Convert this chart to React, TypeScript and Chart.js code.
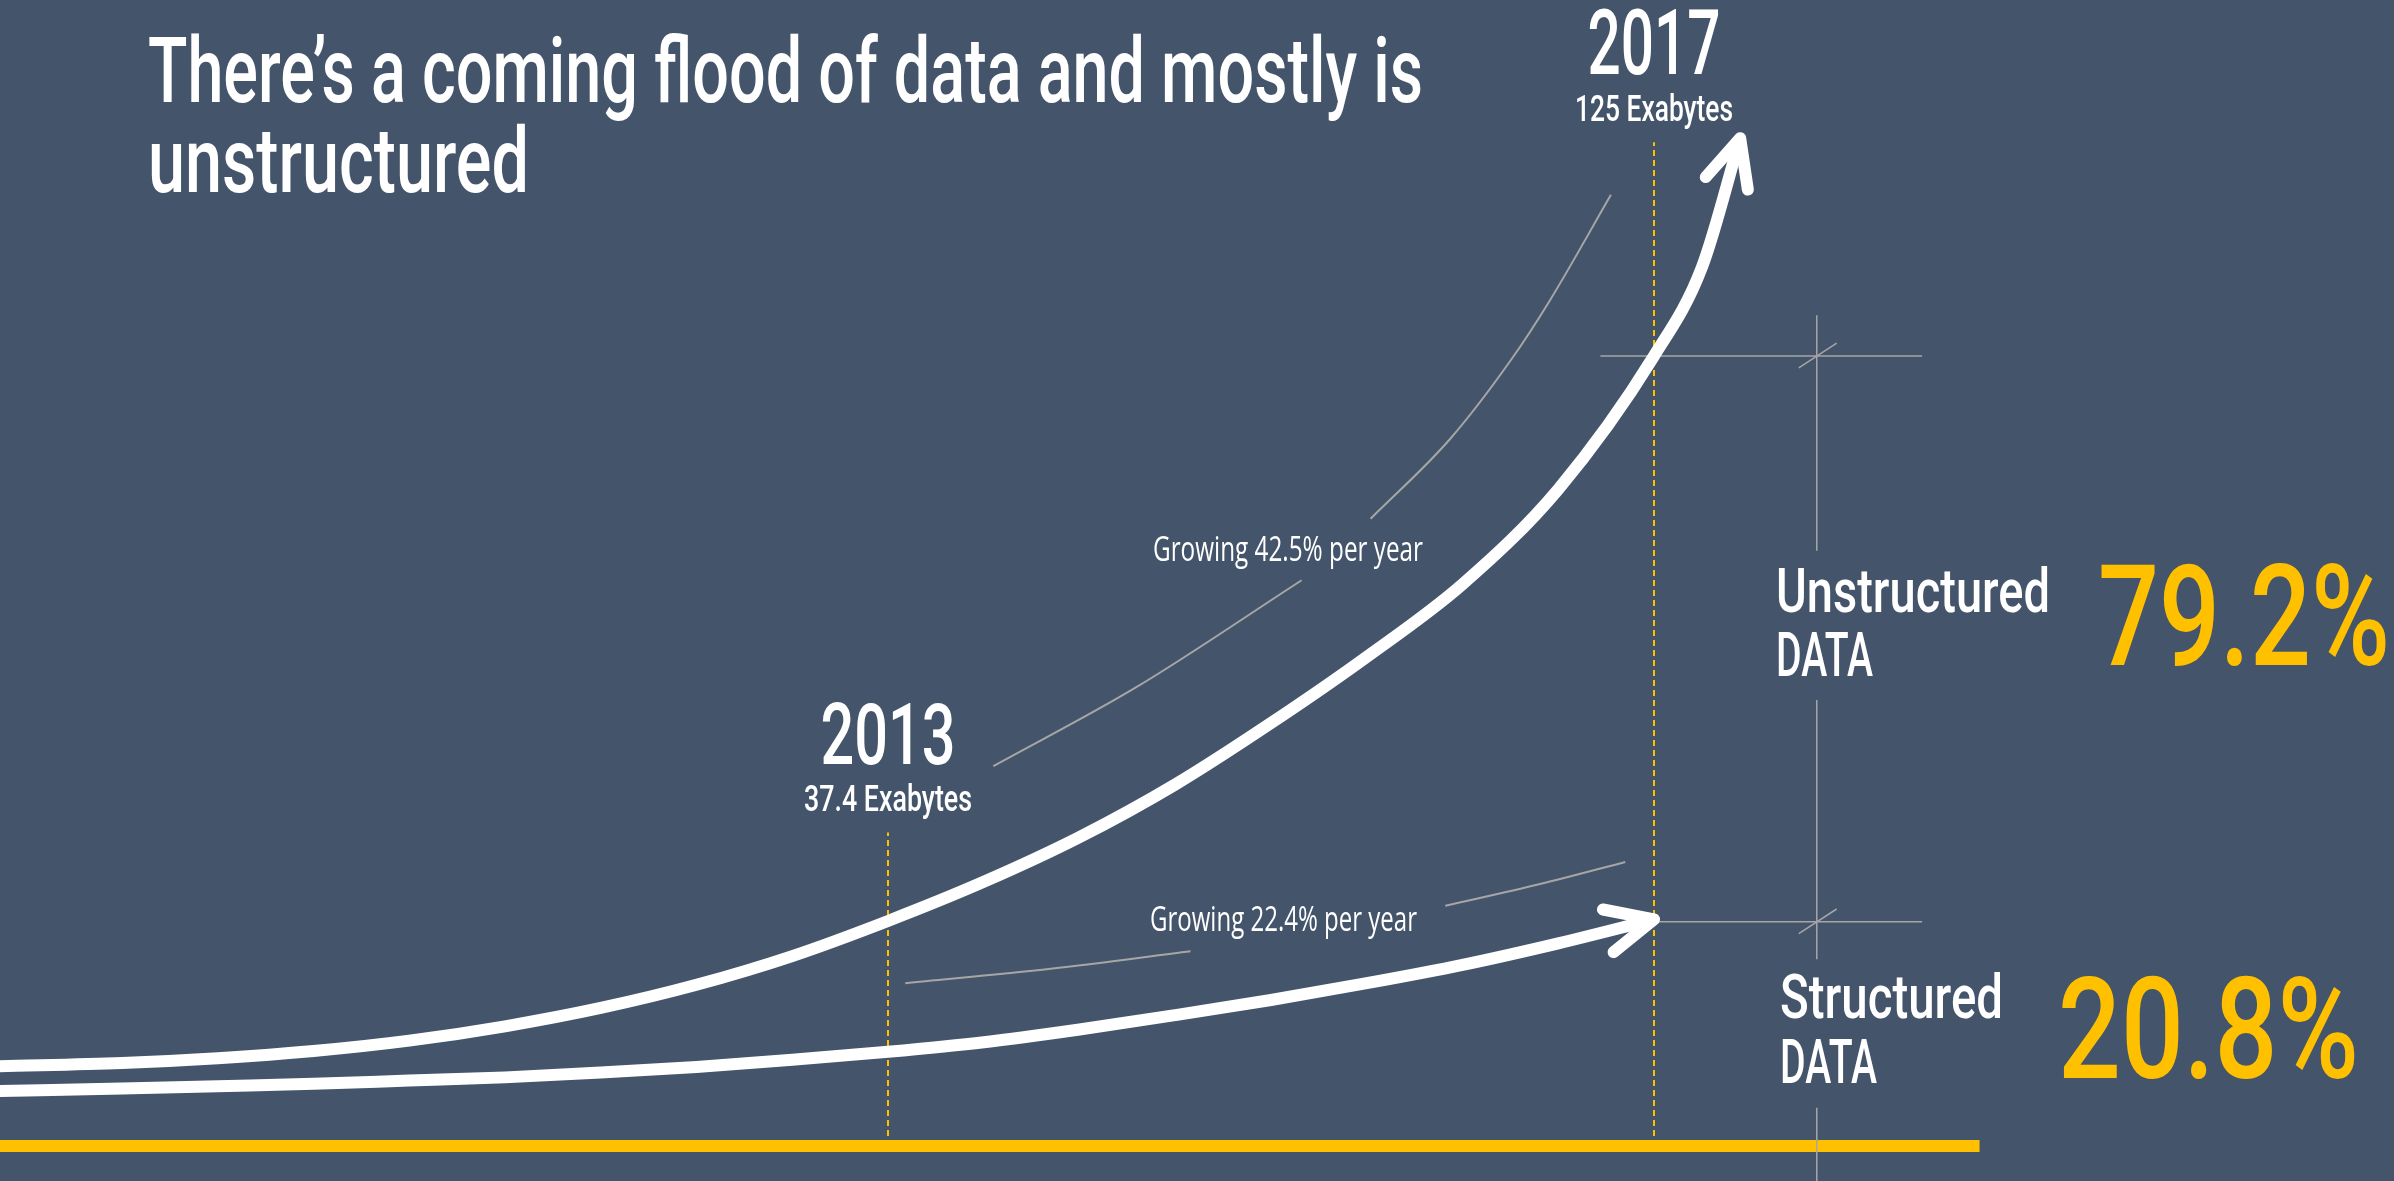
import { useEffect, useRef } from 'react';
import { Chart, registerables } from 'chart.js';

Chart.register(...registerables);

// ---------------- data ----------------
const titleLines = ['There\u2019s a coming flood of data and mostly is', 'unstructured'];

// Unstructured data curve (Exabytes)
const unstructuredYears = [2008.36, 2009, 2009.5, 2010, 2010.5, 2011, 2011.5, 2012, 2012.5, 2013, 2013.5, 2014, 2014.5, 2015, 2015.5, 2016, 2016.5, 2017, 2017.25, 2017.45];
const unstructuredEB = [10.0, 10.4, 11.0, 11.9, 13.2, 15.0, 17.3, 20.2, 23.8, 28.2, 33.1, 38.7, 45.3, 53.0, 61.3, 70.4, 82.3, 99.0, 110.1, 126.3];

// Structured data curve
const structuredYears = [2008.36, 2009, 2009.5, 2010, 2010.5, 2011, 2011.5, 2012, 2012.5, 2013, 2013.5, 2014, 2014.5, 2015, 2015.5, 2016, 2016.5, 2017];
const structuredEB = [6.9, 7.2, 7.5, 7.8, 8.2, 8.6, 9.2, 9.9, 10.8, 11.8, 13.0, 14.6, 16.4, 18.3, 20.4, 22.7, 25.4, 28.4];

// Year markers
const markerYears = [2013, 2017];
const markerTopEB = [39.3, 125.8];
const markerYearLabels = ['2013', '2017'];
const markerVolumeLabels = ['37.4 Exabytes', '125 Exabytes'];

// Growth annotations (thin guide curves, split around the label)
const growthLabels = ['Growing 42.5% per year', 'Growing 22.4% per year'];
const guideALowerYears = [2013.55, 2014.29, 2015.16];
const guideALowerEB = [47.6, 57.4, 70.9];
const guideAUpperYears = [2015.52, 2015.935, 2016.25, 2016.457, 2016.775];
const guideAUpperEB = [78.6, 88.6, 98.4, 106.0, 119.2];
const guideBLowerYears = [2013.09, 2013.85, 2014.58];
const guideBLowerEB = [20.4, 22.2, 24.4];
const guideBUpperYears = [2015.91, 2016.4, 2016.85];
const guideBUpperEB = [30.1, 32.8, 35.6];

// Share measure (crosshair) lines
const shareYear = 2017.85;
const shareLevelsEB = [99.0, 28.1];
const shareLevelStartYears = [2016.72, 2017.0];
const shareLevelEndYear = 2018.4;
const shareVerticalSegmentsEB = [[104.1, 74.6], [55.9, 23.4], [4.8, -4.4]];
const shareNames = ['Unstructured', 'Structured'];
const sharePercents = ['79.2%', '20.8%'];

// Base axis bar
const axisYears = [2008.3629, 2018.7];
const axisEB = [0, 0];

// ---------------- style ----------------
const BG = '#44546A';
const YELLOW = '#FFC000';
const GRAY = '#A6A6A6';
const WHITE = '#FFFFFF';

const X_MIN = 2008.3629;
const X_MAX = 2020.8642;
const Y_MIN = -4.386;
const Y_MAX = 143.614;

const pts = (xs: number[], ys: number[]) => xs.map((x, i) => ({ x, y: ys[i] }));

function fitText(
  ctx: CanvasRenderingContext2D,
  text: string,
  x: number,
  baseline: number,
  size: number,
  weight: number,
  family: string,
  color: string,
  width: number,
  align: 'left' | 'center' = 'left'
) {
  ctx.save();
  ctx.font = `${weight} ${size}px ${family}`;
  ctx.textAlign = 'left';
  ctx.textBaseline = 'alphabetic';
  ctx.fillStyle = color;
  const w = ctx.measureText(text).width || 1;
  const sx = width / w;
  const left = align === 'center' ? x - width / 2 : x;
  ctx.translate(left, baseline);
  ctx.scale(sx, 1);
  ctx.fillText(text, 0, 0);
  ctx.restore();
}

const bgPlugin = {
  id: 'bg',
  beforeDraw(chart: any) {
    const ctx = chart.ctx;
    ctx.save();
    ctx.fillStyle = BG;
    ctx.fillRect(0, 0, chart.width, chart.height);
    ctx.restore();
  },
};

const arrowPlugin = {
  id: 'arrowHeads',
  afterDatasetsDraw(chart: any) {
    const ctx = chart.ctx;
    chart.data.datasets.forEach((ds: any, i: number) => {
      if (!ds.arrowHead) return;
      const meta = chart.getDatasetMeta(i);
      const n = meta.data.length;
      const last = meta.data[n - 1];
      const prev = meta.data[n - 2];
      let cx = last.cp1x;
      let cy = last.cp1y;
      if (cx === undefined || cy === undefined || (Math.abs(cx - last.x) < 0.01 && Math.abs(cy - last.y) < 0.01)) {
        cx = prev.x;
        cy = prev.y;
      }
      const ang = Math.atan2(last.y - cy, last.x - cx);
      const L = 52;
      const half = (25 * Math.PI) / 180;
      ctx.save();
      ctx.strokeStyle = ds.borderColor;
      ctx.lineWidth = ds.borderWidth;
      ctx.lineCap = 'round';
      ctx.lineJoin = 'round';
      ctx.beginPath();
      for (const s of [-1, 1]) {
        const a = ang + Math.PI + s * half;
        ctx.moveTo(last.x + Math.cos(a) * L, last.y + Math.sin(a) * L);
        ctx.lineTo(last.x, last.y);
      }
      ctx.stroke();
      ctx.restore();
    });
  },
};

const textPlugin = {
  id: 'texts',
  afterDraw(chart: any) {
    const ctx = chart.ctx;
    const xs = chart.scales.x;
    const ys = chart.scales.y;
    // title
    fitText(ctx, titleLines[0], 148, 102, 90, 500, 'Roboto', WHITE, 1275);
    fitText(ctx, titleLines[1], 148, 192, 90, 500, 'Roboto', WHITE, 381);

    // year markers
    const yearSizes = [86, 90];
    const yearWidths = [135, 133];
    const volWidths = [168, 158];
    markerYears.forEach((yr, i) => {
      const px = xs.getPixelForValue(yr);
      const top = ys.getPixelForValue(markerTopEB[i]);
      fitText(ctx, markerYearLabels[i], px, top - 68, yearSizes[i], 500, 'Roboto', WHITE, yearWidths[i], 'center');
      fitText(ctx, markerVolumeLabels[i], px, top - 21, 37, 500, 'Roboto', WHITE, volWidths[i], 'center');
    });

    // growth labels
    fitText(ctx, growthLabels[0], 1153, 561, 34, 400, '"Open Sans"', WHITE, 270);
    fitText(ctx, growthLabels[1], 1150, 931, 34, 400, '"Open Sans"', WHITE, 267);

    // share labels
    fitText(ctx, shareNames[0], 1776, 612, 62, 500, 'Roboto', WHITE, 274);
    fitText(ctx, 'DATA', 1776, 676, 62, 500, 'Roboto', WHITE, 97);
    fitText(ctx, sharePercents[0], 2098, 665, 141, 500, 'Roboto', YELLOW, 292);
    fitText(ctx, shareNames[1], 1780, 1018, 62, 500, 'Roboto', WHITE, 223);
    fitText(ctx, 'DATA', 1780, 1083, 62, 500, 'Roboto', WHITE, 97);
    fitText(ctx, sharePercents[1], 2058, 1078, 141, 500, 'Roboto', YELLOW, 301);
  },
};

function buildDatasets() {
  const ds: any[] = [];
  // main curves (top)
  ds.push({
    data: pts(unstructuredYears, unstructuredEB),
    borderColor: WHITE,
    borderWidth: 12,
    borderCapStyle: 'butt',
    cubicInterpolationMode: 'monotone',
    arrowHead: true,
    order: 1,
  });
  ds.push({
    data: pts(structuredYears, structuredEB),
    borderColor: WHITE,
    borderWidth: 12,
    borderCapStyle: 'butt',
    cubicInterpolationMode: 'monotone',
    arrowHead: true,
    order: 1,
  });
  // guide curves
  [
    [guideALowerYears, guideALowerEB],
    [guideAUpperYears, guideAUpperEB],
    [guideBLowerYears, guideBLowerEB],
    [guideBUpperYears, guideBUpperEB],
  ].forEach(([xs, ys]) => {
    ds.push({
      data: pts(xs, ys),
      borderColor: GRAY,
      borderWidth: 2,
      cubicInterpolationMode: 'monotone',
      order: 3,
    });
  });
  // share crosshair lines
  shareLevelsEB.forEach((lvl, i) => {
    ds.push({
      data: [{ x: shareLevelStartYears[i], y: lvl }, { x: shareLevelEndYear, y: lvl }],
      borderColor: GRAY,
      borderWidth: 1.5,
      tension: 0,
      order: 2,
    });
    ds.push({
      data: [{ x: shareYear - 0.094, y: lvl - 1.5 }, { x: shareYear + 0.104, y: lvl + 1.6 }],
      borderColor: GRAY,
      borderWidth: 1.5,
      tension: 0,
      order: 2,
    });
  });
  shareVerticalSegmentsEB.forEach(([a, b]) => {
    ds.push({
      data: [{ x: shareYear, y: a }, { x: shareYear, y: b }],
      borderColor: GRAY,
      borderWidth: 1.5,
      tension: 0,
      order: 2,
    });
  });
  // axis bar
  ds.push({
    data: pts(axisYears, axisEB),
    borderColor: YELLOW,
    borderWidth: 12,
    borderCapStyle: 'butt',
    tension: 0,
    order: 4,
  });
  // dashed markers
  markerYears.forEach((yr, i) => {
    ds.push({
      data: [{ x: yr, y: 0 }, { x: yr, y: markerTopEB[i] }],
      borderColor: YELLOW,
      borderWidth: 2,
      borderDash: [6, 4],
      tension: 0,
      order: 5,
    });
  });
  return ds;
}

export default function App() {
  const ref = useRef<HTMLCanvasElement>(null);
  useEffect(() => {
    document.body.style.margin = '0';
    document.body.style.background = BG;
    document.body.style.overflow = 'hidden';
    let chart: Chart | null = null;
    let cancelled = false;
    const make = () => {
      if (cancelled || !ref.current) return;
      chart = new Chart(ref.current, {
        type: 'line',
        data: { datasets: buildDatasets() },
        options: {
          animation: false,
          responsive: false,
          devicePixelRatio: 1,
          events: [],
          layout: { padding: 0 },
          plugins: {
            legend: { display: false },
            tooltip: { enabled: false },
          },
          elements: { point: { radius: 0, hoverRadius: 0 }, line: { fill: false } },
          scales: {
            x: { type: 'linear', min: X_MIN, max: X_MAX, display: false },
            y: { type: 'linear', min: Y_MIN, max: Y_MAX, display: false },
          },
        } as any,
        plugins: [bgPlugin, arrowPlugin, textPlugin],
      });
    };
    const fontsApi = (document as any).fonts;
    if (fontsApi && fontsApi.load) {
      Promise.all([
        fontsApi.load('500 90px Roboto'),
        fontsApi.load('400 34px "Open Sans"'),
      ])
        .catch(() => undefined)
        .then(make);
    } else {
      make();
    }
    return () => {
      cancelled = true;
      if (chart) chart.destroy();
    };
  }, []);
  return (
    <canvas
      ref={ref}
      width={2394}
      height={1181}
      style={{ display: 'block', width: 2394, height: 1181 }}
    />
  );
}
